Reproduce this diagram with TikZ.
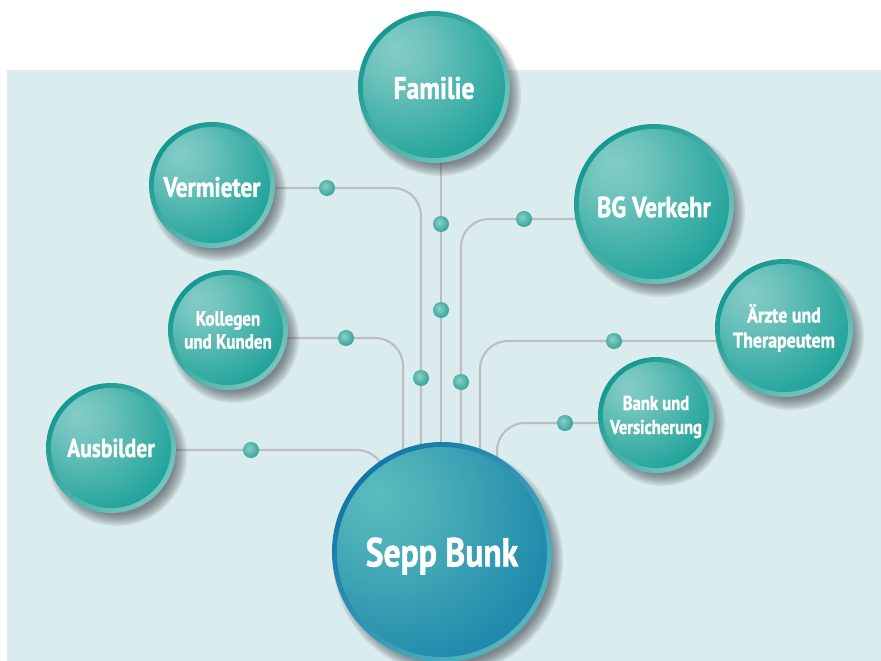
\documentclass[tikz,border=0pt]{standalone}
\usepackage{fontspec}
\setmainfont{PT Sans}[FakeStretch=0.83, BoldFeatures={FakeBold=1.3}]
\usetikzlibrary{calc}
\definecolor{bgc}{RGB}{218,236,237}
\definecolor{linec}{RGB}{189,190,194}
\definecolor{tealhi}{RGB}{132,204,198}
\definecolor{tealdark}{RGB}{0,150,140}
\definecolor{tealringA}{RGB}{20,152,143}
\definecolor{tealringB}{RGB}{118,198,192}
\definecolor{bluehi}{RGB}{90,188,188}
\definecolor{bluedark}{RGB}{10,118,166}
\definecolor{blueringA}{RGB}{18,118,168}
\definecolor{blueringB}{RGB}{84,182,192}
\definecolor{dothi}{RGB}{140,208,200}
\definecolor{dotdark}{RGB}{20,148,138}
\definecolor{shadowc}{RGB}{40,50,55}
\pgfdeclareradialshading{tealball}{\pgfpoint{-14bp}{14bp}}{color(0bp)=(tealhi); color(10bp)=(tealhi!85!tealdark); color(48bp)=(tealdark); color(100bp)=(tealdark)}
\pgfdeclareradialshading{blueball}{\pgfpoint{-16bp}{14bp}}{color(0bp)=(bluehi); color(10bp)=(bluehi!85!bluedark); color(50bp)=(bluedark); color(100bp)=(bluedark)}
\pgfdeclareradialshading{dotball}{\pgfpoint{-6bp}{6bp}}{color(0bp)=(dothi); color(40bp)=(dotdark); color(100bp)=(dotdark)}
\pgfdeclarelayer{bgrect}
\pgfdeclarelayer{lines}
\pgfsetlayers{bgrect,lines,main}
\tikzset{
  conn/.style={draw=linec, line width=2.1pt, rounded corners=28pt},
  dotnode/.style={circle, minimum size=16pt, inner sep=0pt, shading=dotball},
  balltext/.style={circle, inner sep=0pt, text=white, align=center},
  shadowlayer/.style={fill=shadowc, fill opacity=0.085}
}
% name, x, y, r, scheme, size, baselineskip, text, text y offset
\newcommand\mkball[9]{%
  \foreach \k in {0,1,...,7}{\fill[shadowlayer] ({#2+6},{#3+8}) circle ({#4+5-1.6*\k});}
  \shade[top color=#5ringA, bottom color=#5ringB, shading angle=45] (#2,#3) circle (#4);
  \shade[shading=#5ball] (#2,#3) circle ({#4-5});
  \node[balltext, minimum size={2*#4 pt}, font=\bfseries\fontsize{#6}{#7}\selectfont] (#1) at (#2,#3) {};
  \node[balltext, font=\bfseries\fontsize{#6}{#7}\selectfont] (#1-label) at ($(#1.center)+(0,#9)$) {#8};
}
\begin{document}
\begin{tikzpicture}[x=1pt,y=-1pt]
\useasboundingbox (0,0) rectangle (881,661);
\begin{pgfonlayer}{bgrect}
  \fill[white] (0,0) rectangle (881,661);
  \fill[bgc] (7,70) rectangle (881,661);
\end{pgfonlayer}

\mkball{sepp}{442}{552}{110}{blue}{40.5}{44}{Sepp Bunk}{4}
\mkball{fam}{434}{87}{76}{teal}{31}{34}{Familie}{1}
\mkball{verm}{212}{185}{63}{teal}{28}{31}{Vermieter}{2}
\mkball{koll}{228}{330}{60}{teal}{20.5}{23}{Kollegen\\und Kunden}{0}
\mkball{ausb}{111}{448}{65}{teal}{26}{29}{Ausbilder}{0}
\mkball{bg}{654}{204}{80}{teal}{29}{32}{BG Verkehr}{3}
\mkball{aerz}{784}{328}{69}{teal}{21.5}{25}{Ärzte und\\Therapeutem}{0}
\mkball{bank}{656}{415}{58}{teal}{20}{24}{Bank und\\Versicherung}{2}

\node[dotnode] (dv1) at (327,188) {};
\node[dotnode] (dv2) at (421,378) {};
\node[dotnode] (df1) at (441,224) {};
\node[dotnode] (df2) at (441,310) {};
\node[dotnode] (db1) at (524,219) {};
\node[dotnode] (db2) at (461,382) {};
\node[dotnode] (da1) at (614,341) {};
\node[dotnode] (dk1) at (346,338) {};
\node[dotnode] (dba1) at (565,423) {};
\node[dotnode] (dau1) at (251,450) {};

\begin{pgfonlayer}{lines}
  \draw[conn] ($(verm.center)+(0,3)$) -- (dv1.center) -| (dv2.center) -- ($(sepp.center)+(-21,-50)$);
  \draw[conn] (fam.center -| df1.center) -- (df1.center) -- (df2.center) -- (sepp.center -| df2.center);
  \draw[conn] ($(bg.center)+(0,15)$) -- (db1.center) -| (db2.center) -- ($(sepp.center)+(19,-50)$);
  \draw[conn] ($(aerz.center)+(0,13)$) -- (da1.center) -| ($(sepp.center)+(38,-50)$);
  \draw[conn] ($(bank.center)+(0,8)$) -- (dba1.center) -| ($(sepp.center)+(55,-50)$);
  \draw[conn] ($(koll.center)+(0,8)$) -- (dk1.center) -| ($(sepp.center)+(-39,-50)$);
  \draw[conn] ($(ausb.center)+(0,2)$) -- (dau1.center) -| ($(sepp.center)+(-57,-50)$);
\end{pgfonlayer}
\end{tikzpicture}
\end{document}
